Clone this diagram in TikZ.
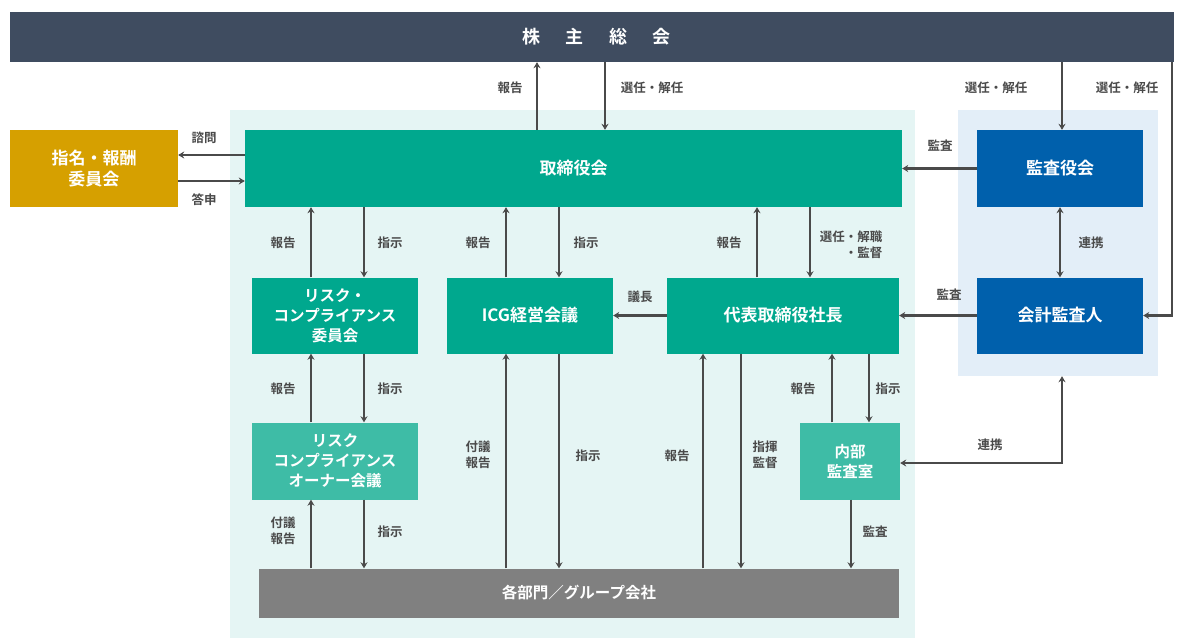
\documentclass[tikz,border=0pt]{standalone}
\usepackage{fontspec}
\setmainfont{Noto Sans CJK JP}[BoldFont={Noto Sans CJK JP Bold}]
\usetikzlibrary{arrows.meta,positioning}
\definecolor{barcol}{HTML}{3F4C60}
\definecolor{teal}{HTML}{00A88E}
\definecolor{lteal}{HTML}{3EBCA6}
\definecolor{panel}{HTML}{E5F5F4}
\definecolor{bpanel}{HTML}{E3EEF8}
\definecolor{bluebox}{HTML}{0060AC}
\definecolor{gold}{HTML}{D6A000}
\definecolor{graybar}{HTML}{808080}
\definecolor{linecol}{HTML}{4A4A4A}
\definecolor{lblcol}{HTML}{4A4A4A}
\tikzset{
  box/.style={rectangle, inner sep=0pt, text=white, font=\bfseries\fontsize{17}{21}\selectfont, align=center},
  sbox/.style={box, font=\bfseries\fontsize{15.5}{20}\selectfont},
  lbl/.style={text=lblcol, font=\bfseries\fontsize{12.5}{16}\selectfont, align=center, inner sep=0pt},
  arr/.style={draw=linecol, line width=2.2pt, -{Stealth[length=6pt,width=7pt]}},
  darr/.style={draw=linecol, line width=2.2pt, {Stealth[length=6pt,width=7pt]}-{Stealth[length=6pt,width=7pt]}},
}
\begin{document}
\begin{tikzpicture}[x=1pt,y=-1pt]
\useasboundingbox[fill=white] (0,0) rectangle (1184,641);
% panels
\node[fill=panel, minimum width=685pt, minimum height=528pt, inner sep=0pt] (pnl) at (572.5,374) {};
\node[fill=bpanel, minimum width=200pt, minimum height=266pt, inner sep=0pt] (bpnl) at (1058,243) {};
% top bar
\node[box, fill=barcol, minimum width=1164pt, minimum height=50pt, font=\bfseries\fontsize{18}{20}\selectfont] (gm) at (592,37) {\hspace{0.5em}株\hspace{1.4em}主\hspace{1.4em}総\hspace{1.4em}会};
% boxes
\node[box, fill=teal, minimum width=657pt, minimum height=77pt] (tori) at (573.5,168.5) {取締役会};
\node[box, fill=gold, minimum width=168pt, minimum height=77pt] (shimei) at (94,168.5) {指名・報酬\\委員会};
\node[box, fill=bluebox, minimum width=166pt, minimum height=77pt] (kansa) at (1060,168.5) {監査役会};
\node[box, fill=bluebox, minimum width=166pt, minimum height=76pt] (kaikei) at (1060,315.5) {会計監査人};
\node[box, fill=teal, minimum width=232pt, minimum height=76pt] (pres) at (783,315.5) {代表取締役社長};
\node[box, fill=teal, minimum width=166pt, minimum height=76pt] (icg) at (530,315.5) {ICG経営会議};
\node[sbox, fill=teal, minimum width=166pt, minimum height=76pt] (risk) at (335,315.5) {リスク・\\コンプライアンス\\委員会};
\node[sbox, fill=lteal, minimum width=166pt, minimum height=77pt] (owner) at (335,461) {リスク\\コンプライアンス\\オーナー会議};
\node[sbox, fill=lteal, minimum width=100pt, minimum height=77pt] (naibu) at (850,461) {内部\\監査室};
\node[box, fill=graybar, minimum width=640pt, minimum height=49pt, font=\bfseries\fontsize{15.5}{18}\selectfont] (dept) at (579,593) {各部門／グループ会社};
% columns
\coordinate (c1) at (311,0);
\coordinate (c2) at (364,0);
\coordinate (c3) at (506,0);
\coordinate (c4) at (559,0);
\coordinate (c5) at (703,0);
\coordinate (c6) at (741,0);
\coordinate (c7) at (757,0);
\coordinate (c8) at (810,0);
\coordinate (c9) at (832,0);
\coordinate (c10) at (869,0);
\coordinate (c11) at (851,0);
\coordinate (c12) at (537,0);
\coordinate (c13) at (605,0);
\coordinate (c14) at (1062,0);
\coordinate (c15) at (1172,0);
\coordinate (y1) at (0,155);
\coordinate (y2) at (0,181);
\coordinate (y3) at (0,463);
% top connections
\draw[arr] (tori.north -| c12) -- (gm.south -| c12);
\draw[arr] (gm.south -| c13) -- (tori.north -| c13);
\draw[arr] (gm.south -| c14) -- (kansa.north -| c14);
\draw[arr] (gm.south -| c15) -- (c15 |- kaikei.east) -- (kaikei.east);
% shimei
\draw[arr] (tori.west |- y1) -- (shimei.east |- y1);
\draw[arr] (shimei.east |- y2) -- (tori.west |- y2);
% audit
\draw[arr] (kansa.west) -- (tori.east |- kansa.west);
\draw[arr] (kaikei.west) -- (pres.east);
\draw[darr] (kansa.south) -- (kaikei.north);
\draw[arr] (pres.west) -- (icg.east);
% board to second row
\draw[arr] (risk.north -| c1) -- (tori.south -| c1);
\draw[arr] (tori.south -| c2) -- (risk.north -| c2);
\draw[arr] (icg.north -| c3) -- (tori.south -| c3);
\draw[arr] (tori.south -| c4) -- (icg.north -| c4);
\draw[arr] (pres.north -| c7) -- (tori.south -| c7);
\draw[arr] (tori.south -| c8) -- (pres.north -| c8);
% risk and owner
\draw[arr] (owner.north -| c1) -- (risk.south -| c1);
\draw[arr] (risk.south -| c2) -- (owner.north -| c2);
\draw[arr] (dept.north -| c1) -- (owner.south -| c1);
\draw[arr] (owner.south -| c2) -- (dept.north -| c2);
% icg and dept
\draw[arr] (dept.north -| c3) -- (icg.south -| c3);
\draw[arr] (icg.south -| c4) -- (dept.north -| c4);
% president and dept
\draw[arr] (dept.north -| c5) -- (pres.south -| c5);
\draw[arr] (pres.south -| c6) -- (dept.north -| c6);
% president and internal audit
\draw[arr] (naibu.north -| c9) -- (pres.south -| c9);
\draw[arr] (pres.south -| c10) -- (naibu.north -| c10);
\draw[arr] (naibu.south -| c11) -- (dept.north -| c11);
% renkei internal audit
\draw[darr] (naibu.east |- y3) -- (c14 |- y3) -- (bpnl.south -| c14);
% labels
\node[lbl] (l1) at (510,88) {報告};
\node[lbl] (l2) at (652,88) {選任・解任};
\node[lbl] (l3) at (996,88) {選任・解任};
\node[lbl] (l4) at (1127,88) {選任・解任};
\node[lbl] (l5) at (204,138) {諮問};
\node[lbl] (l6) at (204,200) {答申};
\node[lbl] (l7) at (940,146) {監査};
\node[lbl] (l8) at (1091,243) {連携};
\node[lbl] (l9) at (949,295) {監査};
\node[lbl] (l10) at (640,297) {議長};
\node[lbl] (l11) at (283,243) {報告};
\node[lbl] (l12) at (390,243) {指示};
\node[lbl] (l13) at (478,243) {報告};
\node[lbl] (l14) at (586,243) {指示};
\node[lbl] (l15) at (729,243) {報告};
\node[lbl, align=right] (l16) at (851,245) {選任・解職\\・監督};
\node[lbl] (l17) at (283,389) {報告};
\node[lbl] (l18) at (390,389) {指示};
\node[lbl] (l19) at (283,531) {付議\\報告};
\node[lbl] (l20) at (390,532) {指示};
\node[lbl] (l21) at (478,455) {付議\\報告};
\node[lbl] (l22) at (588,456) {指示};
\node[lbl] (l23) at (677,456) {報告};
\node[lbl] (l24) at (765,455) {指揮\\監督};
\node[lbl] (l25) at (803,389) {報告};
\node[lbl] (l26) at (888,389) {指示};
\node[lbl] (l27) at (875,532) {監査};
\node[lbl] (l28) at (990,445) {連携};
\end{tikzpicture}
\end{document}
